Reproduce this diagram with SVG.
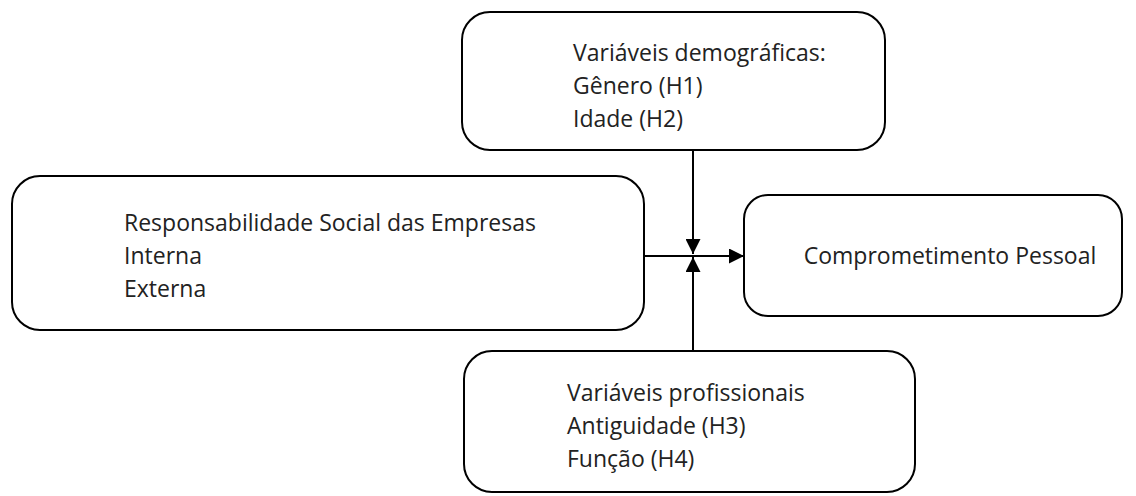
<svg xmlns="http://www.w3.org/2000/svg" width="1136" height="496" viewBox="0 0 1136 496">
<style>
.box{fill:#fff;stroke:#000;stroke-width:2}
.t{font-family:"Open Sans","Noto Sans",sans-serif;font-size:23px;fill:#222}
.c{stroke:#000;stroke-width:2;fill:none}
</style>
<defs>
<marker id="ah" markerWidth="15" markerHeight="15" refX="15" refY="7.5" orient="auto" markerUnits="userSpaceOnUse">
<path d="M0,0 L15,7.5 L0,15 Z" fill="#000"/>
</marker>
</defs>
<rect width="1136" height="496" fill="#fff"/>
<g id="demograficas">
<rect class="box" x="462" y="12" width="423" height="138" rx="28"/>
<text class="t" x="573" y="61">Variáveis demográficas:</text>
<text class="t" x="573" y="94">Gênero (H1)</text>
<text class="t" x="573" y="127">Idade (H2)</text>
</g>
<g id="rse">
<rect class="box" x="12" y="176" width="632" height="154" rx="28"/>
<text class="t" x="124" y="231">Responsabilidade Social das Empresas</text>
<text class="t" x="124" y="264">Interna</text>
<text class="t" x="124" y="297">Externa</text>
</g>
<g id="comprometimento">
<rect class="box" x="744" y="195" width="378" height="121" rx="24"/>
<text class="t" x="950" y="264" text-anchor="middle">Comprometimento Pessoal</text>
</g>
<g id="profissionais">
<rect class="box" x="464" y="351" width="451" height="141" rx="28"/>
<text class="t" x="567" y="401">Variáveis profissionais</text>
<text class="t" x="567" y="434">Antiguidade (H3)</text>
<text class="t" x="567" y="467">Função (H4)</text>
</g>
<g id="connectors">
<line class="c" x1="644" y1="256" x2="744" y2="256" marker-end="url(#ah)"/>
<line class="c" x1="693" y1="150" x2="693" y2="254" marker-end="url(#ah)"/>
<line class="c" x1="693" y1="351" x2="693" y2="257" marker-end="url(#ah)"/>
</g>
</svg>
